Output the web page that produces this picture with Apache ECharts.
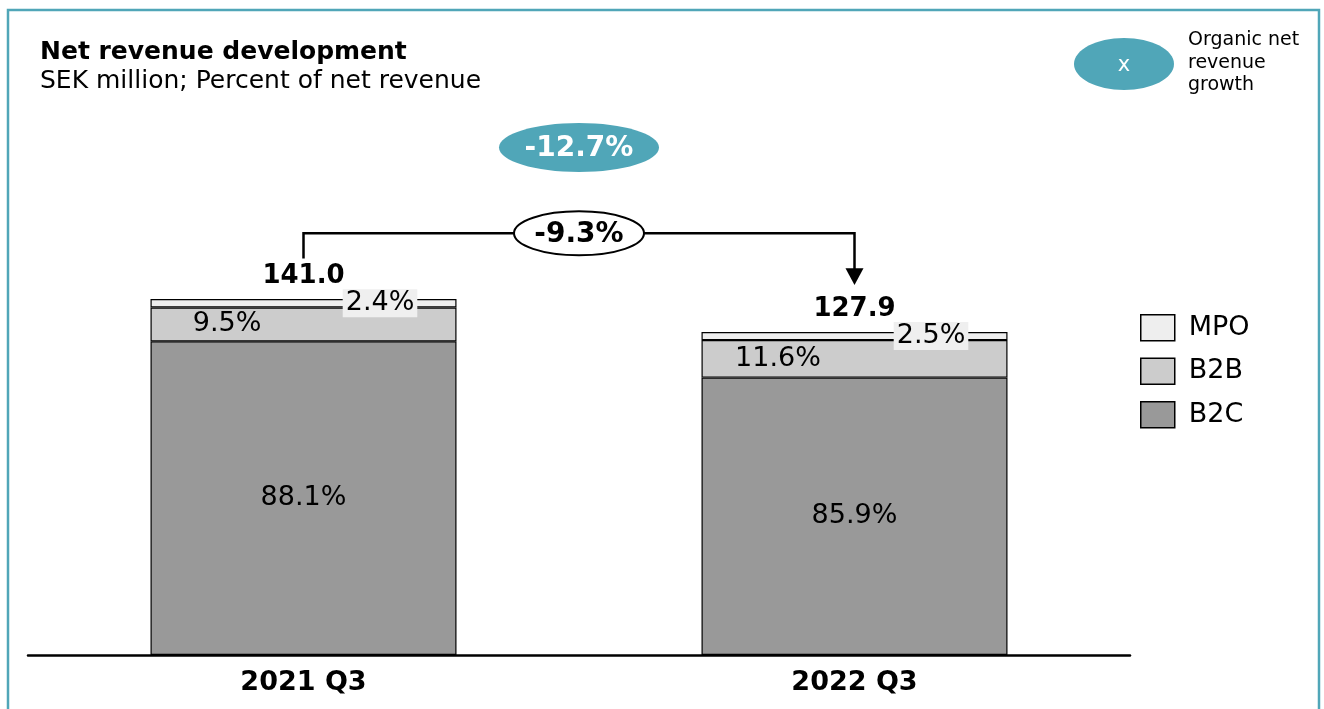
<!DOCTYPE html>
<html>
<head>
<meta charset="utf-8">
<title>Net revenue development</title>
<script src="https://cdn.jsdelivr.net/npm/echarts@6/dist/echarts.min.js"></script>
<style>
html, body { margin: 0; padding: 0; background: #fff; }
#chart { width: 1324px; height: 709px; }
</style>
</head>
<body>
<div id="chart"></div>
<script>
// data
var categories = ['2021 Q3', '2022 Q3'];
var totals = [141.0, 127.9];
var b2cShare = [88.1, 85.9];
var b2bShare = [9.5, 11.6];
var mpoShare = [2.4, 2.5];
var organicGrowth = '-9.3%';
var reportedGrowth = '-12.7%';

var FONT = 'DejaVu Sans';
var TEAL = '#50a6b8';

// segment heights in SEK million
function part(share) {
	return share.map(function (s, i) { return +(totals[i] * s / 100).toFixed(2); });
}

var segLabel = function (share, pos, extra) {
	var l = {
		show: true,
		position: pos,
		align: 'center',
		verticalAlign: 'middle',
		fontFamily: FONT,
		fontSize: 27,
		color: '#000',
		formatter: function (p) { return share[p.dataIndex].toFixed(1) + '%'; }
	};
	for (var k in extra) l[k] = extra[k];
	return l;
};

var chart = echarts.init(document.getElementById('chart'));

var option = {
	animation: false,
	title: {
		text: 'Net revenue development',
		subtext: 'SEK million; Percent of net revenue',
		left: 35,
		top: 35,
		itemGap: 4,
		textStyle: { fontFamily: FONT, fontSize: 25, fontWeight: 'bold', color: '#000' },
		subtextStyle: { fontFamily: FONT, fontSize: 25, color: '#000' }
	},
	legend: {
		data: ['MPO', 'B2B', 'B2C'],
		orient: 'vertical',
		left: 1140,
		top: 314,
		padding: 0,
		icon: 'rect',
		itemWidth: 34,
		itemHeight: 26,
		itemGap: 16,
		selectedMode: false,
		itemStyle: { borderColor: '#000', borderWidth: 1.5 },
		textStyle: { fontFamily: FONT, fontSize: 27, color: '#000', padding: [0, 0, 0, 9] }
	},
	grid: { left: 28, right: 194, top: 150, bottom: 54 },
	xAxis: {
		type: 'category',
		data: categories,
		axisLine: { lineStyle: { color: '#000', width: 2.5 } },
		axisTick: { show: false },
		axisLabel: { margin: 14, fontFamily: FONT, fontSize: 27, fontWeight: 'bold', color: '#000' }
	},
	yAxis: {
		type: 'value',
		min: 0,
		max: 200,
		show: false,
		splitLine: { show: false }
	},
	series: [
		{
			name: 'B2C', type: 'bar', stack: 'rev', barWidth: 306,
			data: part(b2cShare),
			itemStyle: { color: '#999999', borderColor: '#000', borderWidth: 1.2 },
			label: segLabel(b2cShare, 'inside', {}),
			emphasis: { disabled: true }
		},
		{
			name: 'B2B', type: 'bar', stack: 'rev', barWidth: 306,
			data: part(b2bShare),
			itemStyle: { color: '#cccccc', borderColor: '#000', borderWidth: 1.2 },
			label: segLabel(b2bShare, ['25%', '50%'], {}),
			emphasis: { disabled: true }
		},
		{
			name: 'MPO', type: 'bar', stack: 'rev', barWidth: 306,
			data: part(mpoShare),
			itemStyle: { color: '#eeeeee', borderColor: '#000', borderWidth: 1.2 },
			label: segLabel(mpoShare, ['75%', '50%'], { backgroundColor: '#efefef', padding: [1, 3, 0, 3] }),
			emphasis: { disabled: true }
		},
		{
			name: 'Total', type: 'bar', stack: 'rev', barWidth: 306,
			data: totals.map(function () { return 0; }),
			itemStyle: { color: 'transparent', borderWidth: 0 },
			label: {
				show: true, position: 'top', distance: 10,
				fontFamily: FONT, fontSize: 26, fontWeight: 'bold', color: '#000',
				formatter: function (p) { return totals[p.dataIndex].toFixed(1); }
			},
			emphasis: { disabled: true }
		}
	]
};
chart.setOption(option);

// annotations placed from data coordinates
function px(cat, val) { return chart.convertToPixel({ gridIndex: 0 }, [cat, val]); }

var a = px(0, 157), b = px(0, 167), c = px(1, 167), d = px(1, 152), tip = px(1, 146.5);
var mid = (b[0] + c[0]) / 2;
var bubble = px(0, 201);

chart.setOption({
	graphic: [
		// frame
		{ type: 'rect', shape: { x: 8, y: 10, width: 1311, height: 740 }, style: { fill: 'none', stroke: TEAL, lineWidth: 2.5 }, z: 100 },
		// key bubble top right
		{ type: 'ellipse', shape: { cx: 1124, cy: 64, rx: 50, ry: 26 }, style: { fill: TEAL } },
		{ type: 'text', x: 1124, y: 66, style: { text: 'x', fontFamily: FONT, fontSize: 21, fill: '#fff', align: 'center', verticalAlign: 'middle' } },
		{ type: 'text', x: 1188, y: 29, style: { text: 'Organic net\nrevenue\ngrowth', fontFamily: FONT, fontSize: 19, lineHeight: 22.5, fill: '#000' } },
		// bracket with arrow
		{ type: 'polyline', shape: { points: [a, b, c, d] }, style: { stroke: '#000', lineWidth: 2.5, fill: 'none' } },
		{ type: 'polygon', shape: { points: [[d[0] - 9, d[1] - 3], [d[0] + 9, d[1] - 3], [tip[0], tip[1]]] }, style: { fill: '#000' } },
		{ type: 'ellipse', shape: { cx: mid, cy: b[1], rx: 65, ry: 22 }, style: { fill: '#fff', stroke: '#000', lineWidth: 2 } },
		{ type: 'text', x: mid, y: b[1] + 1, style: { text: organicGrowth, fontFamily: FONT, fontSize: 28, fontWeight: 'bold', fill: '#000', align: 'center', verticalAlign: 'middle' } },
		// reported growth bubble
		{ type: 'ellipse', shape: { cx: mid, cy: bubble[1], rx: 80, ry: 24.5 }, style: { fill: TEAL } },
		{ type: 'text', x: mid, y: bubble[1] + 1, style: { text: reportedGrowth, fontFamily: FONT, fontSize: 28, fontWeight: 'bold', fill: '#fff', align: 'center', verticalAlign: 'middle' } }
	]
});
</script>
</body>
</html>
